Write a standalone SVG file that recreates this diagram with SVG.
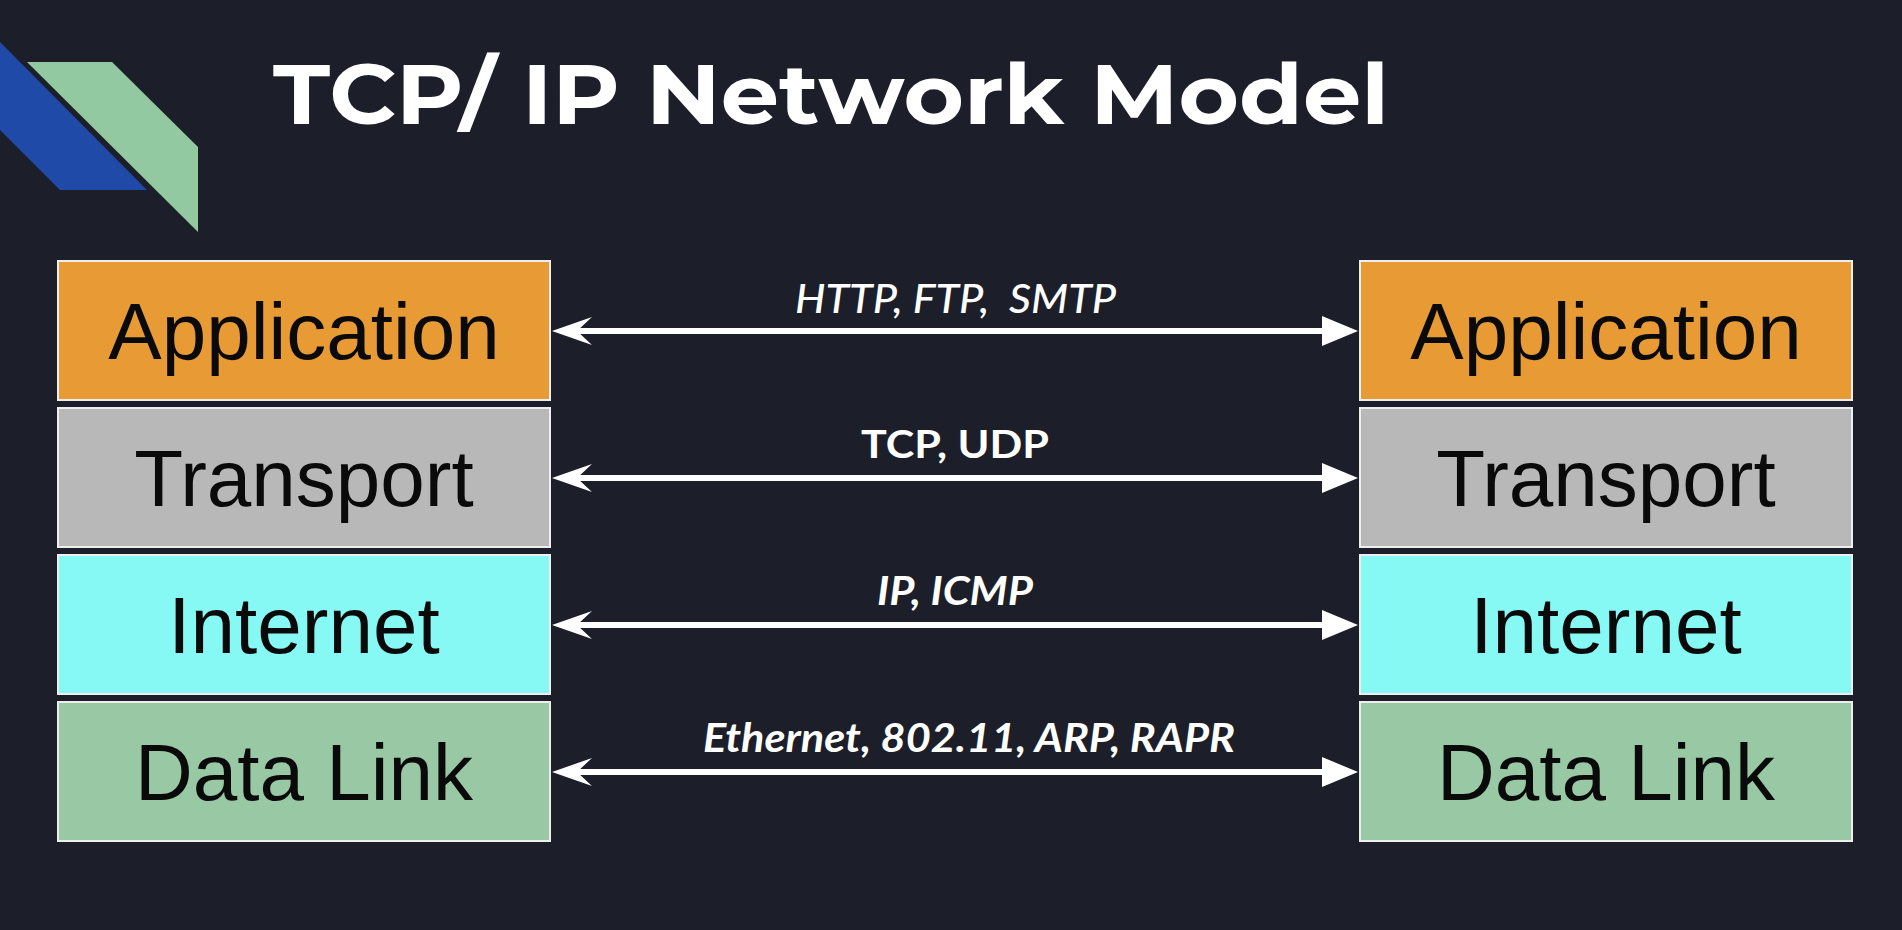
<svg xmlns="http://www.w3.org/2000/svg" width="1902" height="930" viewBox="0 0 1902 930">
  <defs>
    <style>
      .bg { fill: #1c1f29; }
      .box { stroke: #eeeeee; stroke-width: 2; }
      .app { fill: #e89b35; }
      .trn { fill: #b8b8b8; }
      .inet { fill: #86f9f4; }
      .dl { fill: #98c9a4; }
      .lbl { font-family: "Liberation Sans", Arial, sans-serif; font-size: 80px; fill: #0a0a0a; text-anchor: middle; }
      .proto { font-family: Lato, "Open Sans", sans-serif; fill: #ffffff; }
      .line { stroke: #ffffff; stroke-width: 6; fill: none; }
      .head { fill: #ffffff; }
      .title { font-family: Montserrat, Inter, Lato, sans-serif; font-weight: 700; font-size: 84px; fill: #ffffff; }
    </style>
  </defs>
  <rect class="bg" x="0" y="0" width="1902" height="930"/>

  <g id="logo">
    <polygon points="0,42 147,190 60,190 0,130" fill="#1f4aa8"/>
    <polygon points="27,62 112,62 198,147 198,232" fill="#93c9a0"/>
  </g>

  <g id="title">
    <text class="title" x="273" y="124" textLength="1116" lengthAdjust="spacingAndGlyphs">TCP/ IP Network Model</text>
  </g>

  <g id="left-application">
    <rect class="box app" x="58" y="261" width="492" height="139"/>
    <text class="lbl" x="304" y="359">Application</text>
  </g>
  <g id="left-transport">
    <rect class="box trn" x="58" y="408" width="492" height="139"/>
    <text class="lbl" x="304" y="506">Transport</text>
  </g>
  <g id="left-internet">
    <rect class="box inet" x="58" y="555" width="492" height="139"/>
    <text class="lbl" x="304" y="653">Internet</text>
  </g>
  <g id="left-datalink">
    <rect class="box dl" x="58" y="702" width="492" height="139"/>
    <text class="lbl" x="304" y="800">Data Link</text>
  </g>

  <g id="right-application">
    <rect class="box app" x="1360" y="261" width="492" height="139"/>
    <text class="lbl" x="1606" y="359">Application</text>
  </g>
  <g id="right-transport">
    <rect class="box trn" x="1360" y="408" width="492" height="139"/>
    <text class="lbl" x="1606" y="506">Transport</text>
  </g>
  <g id="right-internet">
    <rect class="box inet" x="1360" y="555" width="492" height="139"/>
    <text class="lbl" x="1606" y="653">Internet</text>
  </g>
  <g id="right-datalink">
    <rect class="box dl" x="1360" y="702" width="492" height="139"/>
    <text class="lbl" x="1606" y="800">Data Link</text>
  </g>

  <g id="connectors">
    <g id="conn-application">
      <line class="line" x1="575" y1="331" x2="1326" y2="331"/>
      <polygon class="head" points="552,331 592,317 577,331 592,345"/>
      <polygon class="head" points="1358,331 1322,316 1322,346"/>
      <text class="proto" x="795" y="313" font-size="40" font-style="italic" font-weight="500" textLength="321" lengthAdjust="spacingAndGlyphs">HTTP, FTP,&#160; SMTP</text>
    </g>
    <g id="conn-transport">
      <line class="line" x1="575" y1="478" x2="1326" y2="478"/>
      <polygon class="head" points="552,478 592,464 577,478 592,492"/>
      <polygon class="head" points="1358,478 1322,463 1322,493"/>
      <text class="proto" x="861" y="458" font-size="38" font-weight="700" textLength="188" lengthAdjust="spacingAndGlyphs">TCP, UDP</text>
    </g>
    <g id="conn-internet">
      <line class="line" x1="575" y1="625" x2="1326" y2="625"/>
      <polygon class="head" points="552,625 592,611 577,625 592,639"/>
      <polygon class="head" points="1358,625 1322,610 1322,640"/>
      <text class="proto" x="877" y="605" font-size="40" font-style="italic" font-weight="700" textLength="156" lengthAdjust="spacingAndGlyphs">IP, ICMP</text>
    </g>
    <g id="conn-datalink">
      <line class="line" x1="575" y1="772" x2="1326" y2="772"/>
      <polygon class="head" points="552,772 592,758 577,772 592,786"/>
      <polygon class="head" points="1358,772 1322,757 1322,787"/>
      <text class="proto" x="703" y="752" font-size="40" font-style="italic" font-weight="700" textLength="532" lengthAdjust="spacingAndGlyphs">Ethernet, 802.11, ARP, RAPR</text>
    </g>
  </g>
</svg>
